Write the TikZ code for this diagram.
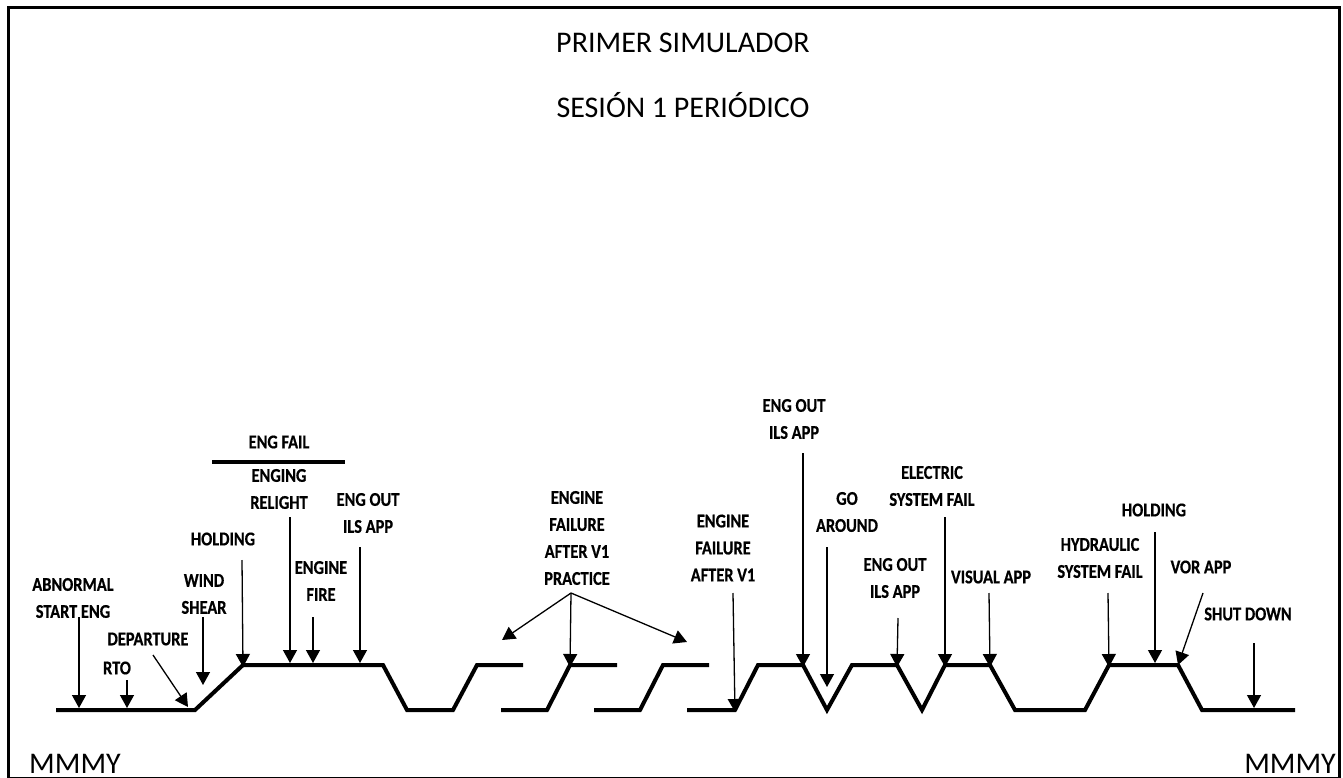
\documentclass[tikz,border=0pt]{standalone}
\usepackage{fontspec}
\setmainfont{Carlito}
\newfontfamily\lblfont[FakeStretch=0.84,FakeBold=0.6]{Carlito}
\usetikzlibrary{arrows.meta}

\begin{document}
\begin{tikzpicture}[x=1pt,y=-1pt,
  trace/.style={line width=4pt,line join=miter},
  evt/.style={line width=1.3pt,-{Triangle[length=13pt,width=14pt]}},
  lbl/.style={font=\lblfont\bfseries\fontsize{19.5}{27}\selectfont,align=center,inner sep=0pt},
  big/.style={font=\fontsize{30}{36}\selectfont,inner sep=0pt}]
\useasboundingbox (0,0) rectangle (1343,778);
\draw[line width=3pt] (8,8) rectangle (1339,778);
% titles
\node[big,anchor=base] (tit1) at (683,53) {PRIMER SIMULADOR};
\node[big,anchor=base] (tit2) at (683,118) {SESIÓN 1 PERIÓDICO};
\node[big,anchor=base west] (mmL) at (29,773) {MMMY};
\node[big,anchor=base east] (mmR) at (1336,773) {MMMY};
% profile corners
\coordinate (p1) at (56,710);   \coordinate (p2) at (195,710);
\coordinate (p3) at (243,665);  \coordinate (p4) at (383,665);
\coordinate (p5) at (407,710);  \coordinate (p6) at (453,710);
\coordinate (p7) at (477,665);  \coordinate (p8) at (523,665);
\coordinate (q1) at (501,710);  \coordinate (q2) at (547,710);
\coordinate (q3) at (570,665);  \coordinate (q4) at (617,665);
\coordinate (r1) at (594,710);  \coordinate (r2) at (640,710);
\coordinate (r3) at (663,665);  \coordinate (r4) at (709,665);
\coordinate (s1) at (687,710);  \coordinate (s2) at (735,710);
\coordinate (s3) at (758,665);  \coordinate (s4) at (803,665);
\coordinate (s5) at (827,710);  \coordinate (s6) at (852,665);
\coordinate (s7) at (897,665);  \coordinate (s8) at (922,710);
\coordinate (s9) at (945,665);  \coordinate (s10) at (990,665);
\coordinate (s11) at (1015,710); \coordinate (s12) at (1085,710);
\coordinate (s13) at (1109,665); \coordinate (s14) at (1178,665);
\coordinate (s15) at (1202,710); \coordinate (s16) at (1295,710);
\draw[trace] (p1) -- (p2) -- (p3) -- (p4) -- (p5) -- (p6) -- (p7) -- (p8);
\draw[trace] (q1) -- (q2) -- (q3) -- (q4);
\draw[trace] (r1) -- (r2) -- (r3) -- (r4);
\draw[trace] (s1) -- (s2) -- (s3) -- (s4) -- (s5) -- (s6) -- (s7) -- (s8) -- (s9) -- (s10)
  -- (s11) -- (s12) -- (s13) -- (s14) -- (s15) -- (s16);
% labels
\node[lbl] (abn) at (73,598) {ABNORMAL\\START ENG};
\node[lbl] (rto) at (117,668) {RTO};
\node[lbl] (dep) at (148,639) {DEPARTURE};
\node[lbl] (wind) at (204,594) {WIND\\SHEAR};
\node[lbl] (hold1) at (223,539) {HOLDING};
\node[lbl] (engfail) at (279,442) {ENG FAIL};
\node[lbl] (relight) at (279,489) {ENGING\\RELIGHT};
\node[lbl] (fire) at (321,581) {ENGINE\\FIRE};
\node[lbl] (ils1) at (368,513) {ENG OUT\\ILS APP};
\node[lbl] (prac) at (577,538) {ENGINE\\FAILURE\\AFTER V1\\PRACTICE};
\node[lbl] (v1) at (723,548) {ENGINE\\FAILURE\\AFTER V1};
\node[lbl] (ils2) at (794,419) {ENG OUT\\ILS APP};
\node[lbl] (ga) at (847,512) {GO\\AROUND};
\node[lbl] (ils3) at (895,578) {ENG OUT\\ILS APP};
\node[lbl] (elec) at (932,486) {ELECTRIC\\SYSTEM FAIL};
\node[lbl] (vis) at (991,577) {VISUAL APP};
\node[lbl] (hyd) at (1100,558) {HYDRAULIC\\SYSTEM FAIL};
\node[lbl] (hold2) at (1154,510) {HOLDING};
\node[lbl] (vor) at (1201,567) {VOR APP};
\node[lbl] (shut) at (1248,614) {SHUT DOWN};
% bar between ENG FAIL and RELIGHT
\coordinate (barL) at (212,462); \coordinate (barR) at (345,462);
\draw[line width=3.5pt] (barL) -- (barR);
% arrow ends
\coordinate (a1) at (79,617);   \coordinate (t1) at (79,708);
\coordinate (a2) at (127,680);  \coordinate (t2) at (127,708);
\coordinate (a3) at (153,655);  \coordinate (t3) at (188,707);
\coordinate (a4) at (203,617);  \coordinate (t4) at (203,685);
\coordinate (a5) at (242,560);
\coordinate (a6) at (290,517);  \coordinate (t6) at (290,663);
\coordinate (a7) at (313,617);  \coordinate (t7) at (313,663);
\coordinate (a8) at (360,547);  \coordinate (t8) at (360,663);
\coordinate (a9) at (571,593);  \coordinate (t9l) at (502,640);
\coordinate (t9r) at (687,642);
\coordinate (a10) at (733,593);
\coordinate (a11) at (803,453);
\coordinate (a12) at (827,547); \coordinate (t12) at (827,687);
\coordinate (a13) at (898,618);
\coordinate (a14) at (945,517);
\coordinate (a15) at (989,593);
\coordinate (a16) at (1108,593);
\coordinate (a17) at (1155,532); \coordinate (t17) at (1155,663);
\coordinate (a18) at (1203,593);
\coordinate (a19) at (1254,643); \coordinate (t19) at (1254,708);
% arrows
\draw[evt] (a1) -- (t1);
\draw[evt] (a2) -- (t2);
\draw[evt] (a3) -- (t3);
\draw[evt] (a4) -- (t4);
\draw[evt] (a5) -- ([yshift=-2pt]p3);
\draw[evt] (a6) -- (t6);
\draw[evt] (a7) -- (t7);
\draw[evt] (a8) -- (t8);
\draw[evt] (a9) -- (t9l);
\draw[evt] (a9) -- ([yshift=-2pt]q3);
\draw[evt] (a9) -- (t9r);
\draw[evt] (a10) -- ([yshift=-2pt]s2);
\draw[evt] (a11) -- ([yshift=-2pt]s4);
\draw[evt] (a12) -- (t12);
\draw[evt] (a13) -- ([yshift=-2pt]s7);
\draw[evt] (a14) -- ([yshift=-2pt]s9);
\draw[evt] (a15) -- ([yshift=-2pt]s10);
\draw[evt] (a16) -- ([yshift=-2pt]s13);
\draw[evt] (a17) -- (t17);
\draw[evt] (a18) -- (s14);
\draw[evt] (a19) -- (t19);
\end{tikzpicture}
\end{document}
